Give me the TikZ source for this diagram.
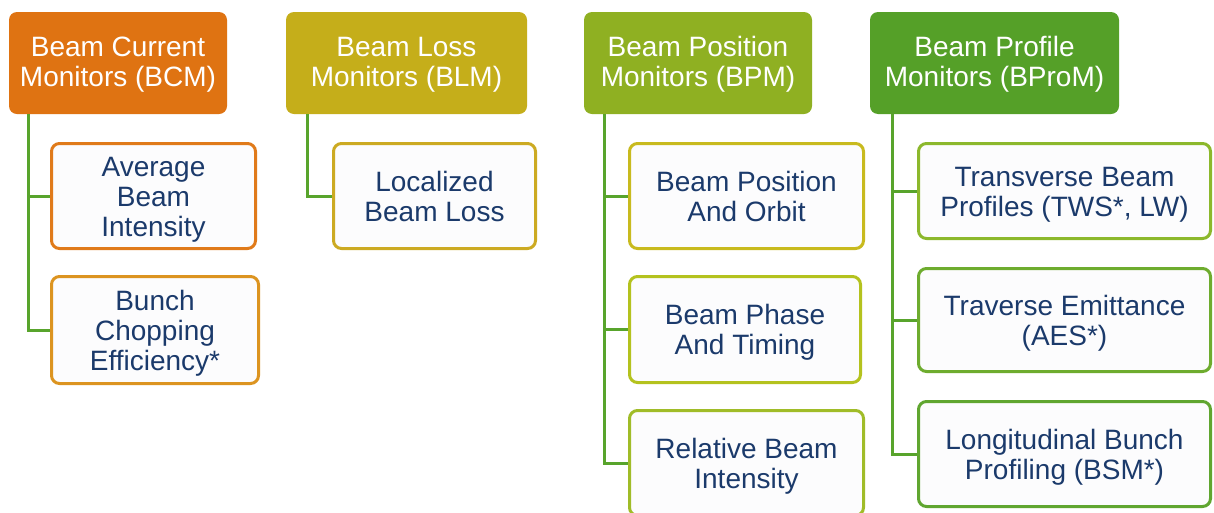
\documentclass[tikz,border=0pt]{standalone}
\usepackage{fontspec}
\setmainfont{Liberation Sans}
\definecolor{cBCM}{HTML}{DF7312}
\definecolor{cBLM}{HTML}{C5AE1A}
\definecolor{cBPM}{HTML}{8FB022}
\definecolor{cBPR}{HTML}{55A028}
\definecolor{cLink}{HTML}{58A42C}
\definecolor{cNavy}{HTML}{1B3A6B}
\definecolor{bAvg}{HTML}{E07A1A}
\definecolor{bBun}{HTML}{DC9420}
\definecolor{bLoc}{HTML}{CCAA22}
\definecolor{bBpo}{HTML}{C8BA1E}
\definecolor{bBpt}{HTML}{B4C21E}
\definecolor{bRbi}{HTML}{A0BC28}
\definecolor{bTbp}{HTML}{8CB82C}
\definecolor{bTe}{HTML}{6EAC2E}
\definecolor{bLbp}{HTML}{60A630}
\definecolor{cFill}{HTML}{FCFCFD}
\newcommand{\hdtxt}[1]{\raisebox{-2.5pt}[\height][\depth]{\begin{tabular}{@{}c@{}}#1\end{tabular}}}
\newcommand{\lftxt}[1]{\raisebox{-4pt}[\height][\depth]{\begin{tabular}{@{}c@{}}#1\end{tabular}}}
\tikzset{
  head/.style={rectangle, rounded corners=8pt, draw=none, text=white,
    font=\fontsize{28}{30}\selectfont, minimum height=102pt, inner sep=0pt},
  leaf/.style={rectangle, rounded corners=8pt, line width=3pt, fill=cFill, text=cNavy,
    font=\fontsize{28}{30}\selectfont, inner sep=0pt},
  link/.style={draw=cLink, line width=3pt}
}
\begin{document}
\begin{tikzpicture}[x=1pt,y=-1pt]
\useasboundingbox[fill=white] (0,0) rectangle (1214,512);
% headers
\node[head, fill=cBCM, minimum width=218pt] (bcm) at (118,63) {\hdtxt{Beam Current\\Monitors (BCM)}};
\node[head, fill=cBLM, minimum width=241pt] (blm) at (406.5,63) {\hdtxt{Beam Loss\\Monitors (BLM)}};
\node[head, fill=cBPM, minimum width=228pt] (bpm) at (698,63) {\hdtxt{Beam Position\\Monitors (BPM)}};
\node[head, fill=cBPR, minimum width=249pt] (bpr) at (994.5,63) {\hdtxt{Beam Profile\\Monitors (BProM)}};
% leaves
\node[leaf, draw=bAvg, minimum width=204pt, minimum height=105pt] (avg) at (153.5,196) {\lftxt{Average\\Beam\\Intensity}};
\node[leaf, draw=bBun, minimum width=207pt, minimum height=107pt] (bun) at (155,330) {\lftxt{Bunch\\Chopping\\Efficiency*}};
\node[leaf, draw=bLoc, minimum width=202pt, minimum height=105pt] (loc) at (434.5,196) {\lftxt{Localized\\Beam Loss}};
\node[leaf, draw=bBpo, minimum width=234pt, minimum height=105pt] (bpo) at (746.5,196) {\lftxt{Beam Position\\And Orbit}};
\node[leaf, draw=bBpt, minimum width=231pt, minimum height=106pt] (bpt) at (745,329.5) {\lftxt{Beam Phase\\And Timing}};
\node[leaf, draw=bRbi, minimum width=234pt, minimum height=105pt] (rbi) at (746.5,463) {\lftxt{Relative Beam\\Intensity}};
\node[leaf, draw=bTbp, minimum width=292pt, minimum height=95pt] (tbp) at (1064.5,191) {\lftxt{Transverse Beam\\Profiles (TWS*, LW)}};
\node[leaf, draw=bTe, minimum width=292pt, minimum height=103pt] (te) at (1064.5,320) {\lftxt{Traverse Emittance\\(AES*)}};
\node[leaf, draw=bLbp, minimum width=292pt, minimum height=105pt] (lbp) at (1064.5,454) {\lftxt{Longitudinal Bunch\\Profiling (BSM*)}};
% connectors
\coordinate (tBCM) at ([xshift=20pt]bcm.south west);
\coordinate (tBLM) at ([xshift=22pt]blm.south west);
\coordinate (tBPM) at ([xshift=21pt]bpm.south west);
\coordinate (tBPR) at ([xshift=23pt]bpr.south west);
\draw[link] (tBCM) |- (avg.west);
\draw[link] (tBCM) |- (bun.west);
\draw[link] (tBLM) |- (loc.west);
\draw[link] (tBPM) |- (bpo.west);
\draw[link] (tBPM) |- (bpt.west);
\draw[link] (tBPM) |- (rbi.west);
\draw[link] (tBPR) |- (tbp.west);
\draw[link] (tBPR) |- (te.west);
\draw[link] (tBPR) |- (lbp.west);
\end{tikzpicture}
\end{document}
